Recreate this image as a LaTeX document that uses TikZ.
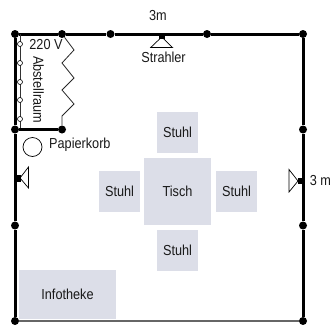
\documentclass[tikz,border=0pt]{standalone}
\usepackage{fontspec}
\setmainfont[FakeStretch=0.875]{Liberation Sans}
\definecolor{boxc}{HTML}{DCDEE8}
\tikzset{
  wall/.style={line width=3pt,black},
  thinwall/.style={line width=1.6pt,black!60},
  dot/.style={circle,fill=black,inner sep=0pt,minimum size=8pt},
  furn/.style={fill=boxc,inner sep=0pt,font=\fontsize{14.5}{14.5}\selectfont,text=black!90},
  lab/.style={inner sep=0pt,font=\fontsize{14.5}{14.5}\selectfont,text=black!90},
  sock/.style={circle,draw=black,fill=white,line width=0.6pt,inner sep=0pt,minimum size=5pt},
  lamp/.style={draw=black,fill=white,line width=0.7pt,line join=miter},
}
\begin{document}
\begin{tikzpicture}[x=1pt,y=-1pt]
\useasboundingbox (0,0) rectangle (332,324);
% furniture
\node[furn,minimum width=41pt,minimum height=41pt] (s1) at (177.5,132.5) {Stuhl};
\node[furn,minimum width=67pt,minimum height=67pt] (t) at (177.5,191.5) {Tisch};
\node[furn,minimum width=41pt,minimum height=41pt] (s2) at (119.5,191.5) {Stuhl};
\node[furn,minimum width=41pt,minimum height=41pt] (s3) at (236.5,191.5) {Stuhl};
\node[furn,minimum width=41pt,minimum height=41pt] (s4) at (177.5,250.5) {Stuhl};
\node[furn,minimum width=97pt,minimum height=49pt] (inf) at (67.5,294.5) {Infotheke};
% wall dots
\node[dot] (a) at (15,34) {};
\node[dot] (b) at (62,34) {};
\node[dot] (c) at (110.5,34) {};
\node[dot] (d) at (207,34) {};
\node[dot] (e) at (303,34) {};
\node[dot] (f) at (303,129.5) {};
\node[dot] (g) at (303,225.5) {};
\node[dot] (h) at (303,321) {};
\node[dot] (i) at (15,321) {};
\node[dot] (j) at (15,225.5) {};
\node[dot] (k) at (15,129.5) {};
\node[dot] (l) at (62,129.5) {};
\draw[thinwall] (i) -- (h);
\draw[wall] (a) -- (b) -- (c) -- (d) -- (e) -- (f) -- (g) -- (h);
\draw[wall] (i) -- (j) -- (k) -- (a);
\draw[wall] (k) -- (l);
% heating
\draw[line width=0.8pt,black!85] (b) -- (74,50) -- (62,63) -- (74,78) -- (62,90) -- (74,104) -- (62,116) -- (l);
% sockets
\coordinate (st) at (20,34);
\coordinate (sb) at (20,128);
\draw[line width=0.7pt,black!80] (st) -- (sb);
\foreach \n/\y in {1/44,2/63,3/82,4/100,5/119} \node[sock] (so\n) at (20,\y) {};
% labels
\node[lab] (v) at (46,45) {220 V};
\node[lab,rotate=-90] (ab) at (38.5,89.5) {Abstellraum};
\node[lab] (w) at (158,16) {3m};
\node[lab] (sl) at (163.5,57) {Strahler};
\node[lab] (rm) at (320.5,181) {3 m};
\node[lab,anchor=west] (pl) at (49,145) {Papierkorb};
\node[circle,draw=black,line width=0.7pt,inner sep=0pt,minimum size=19pt] (pk) at (32.5,147) {};
% lamps
\draw[lamp] (161.7,37) -- (172.5,47.5) -- (150.7,47.5) -- cycle;
\fill (158.5,34) rectangle (165,39);
\draw[lamp] (20,178) -- (28.5,167) -- (28.5,188) -- cycle;
\fill (14,175) rectangle (21,182);
\draw[lamp] (298,181) -- (289,169.5) -- (289,192) -- cycle;
\fill (298,178) rectangle (304,184);
\end{tikzpicture}
\end{document}
